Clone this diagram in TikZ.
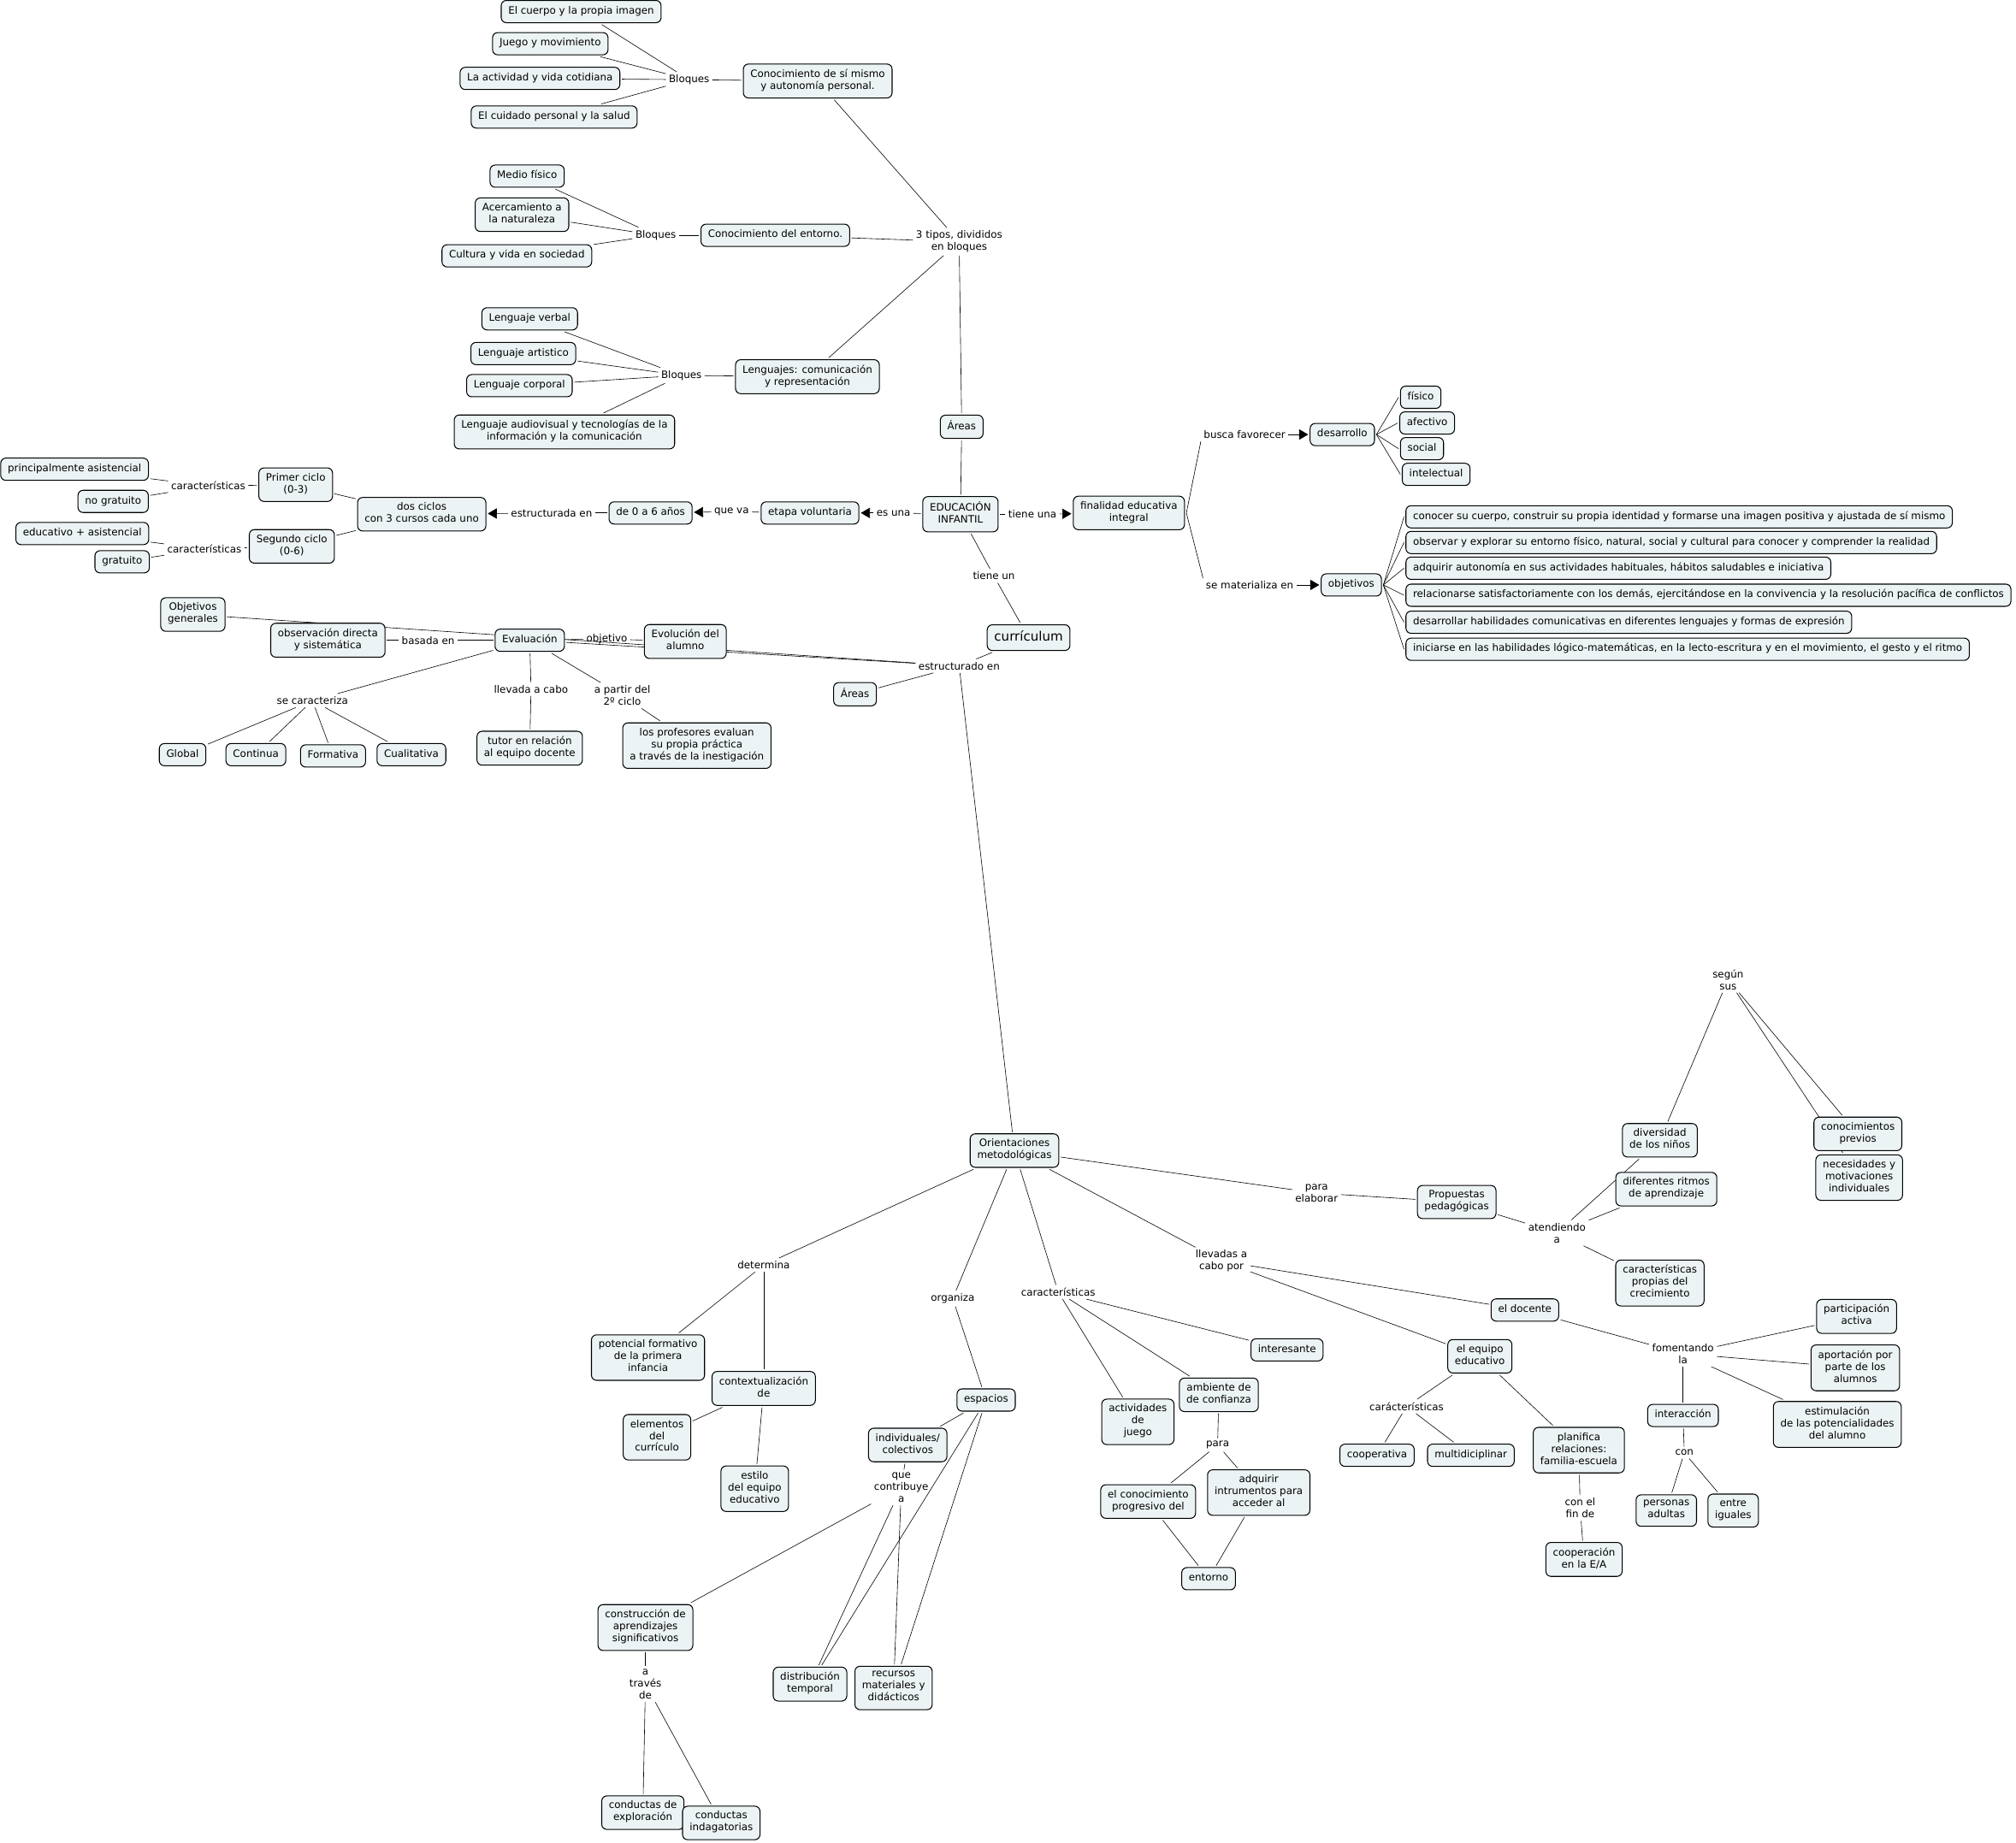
\documentclass[tikz,border=0pt]{standalone}
\usepackage{fontspec}
\setmainfont{DejaVu Sans}
\usetikzlibrary{arrows.meta,backgrounds}
\definecolor{fondocaja}{RGB}{236,243,245}

\tikzset{
    concepto/.style={draw, rounded corners=4pt, fill=fondocaja, line width=0.7pt, align=center,
        inner xsep=5.5pt, inner ysep=4pt, outer sep=1.5pt, font=\fontsize{7.9}{9.3}\selectfont,
        execute at begin node=\strut, execute at end node=\strut},
    enlace/.style={align=center, inner sep=2pt, font=\fontsize{7.9}{9.3}\selectfont},
    flecha/.style={-{Triangle[length=7pt,width=8pt]}}
}

\begin{document}
\begin{tikzpicture}[x=1pt, y=-1pt, line width=0.7pt]
    \useasboundingbox (0,0) rectangle (1568,1433);
    \path node[concepto] (cuerpo) at (452,9) {El cuerpo y la propia imagen}
        node[concepto] (juego) at (428,34) {Juego y movimiento}
        node[concepto] (actividad) at (420,61) {La actividad y vida cotidiana}
        node[concepto] (cuidado) at (431,91) {El cuidado personal y la salud}
        node[enlace] (bloquesA) at (536,62) {Bloques}
        node[concepto] (sismismo) at (636,63) {Conocimiento de sí mismo\\y autonomía personal.}
        node[enlace] (tipos) at (746,188) {3 tipos, divididos\\en bloques}
        node[concepto] (medio) at (410,137) {Medio físico}
        node[concepto] (acercamiento) at (406,167) {Acercamiento a\\la naturaleza}
        node[concepto] (cultura) at (402,199) {Cultura y vida en sociedad}
        node[enlace] (bloquesB) at (510,183) {Bloques}
        node[concepto] (entornoA) at (603,183) {Conocimiento del entorno.}
        node[concepto] (verbal) at (412,248) {Lenguaje verbal}
        node[concepto] (artistico) at (407,275) {Lenguaje artistico}
        node[concepto] (corporal) at (404,300) {Lenguaje corporal}
        node[concepto] (audiovisual) at (439,336) {Lenguaje audiovisual y tecnologías de la\\información y la comunicación}
        node[enlace] (bloquesC) at (530,292) {Bloques}
        node[concepto] (lenguajes) at (628,293) {Lenguajes: comunicación\\y representación}
        node[concepto] (areasA) at (748,332) {Áreas};
    \path node[concepto] (infantil) at (747,400) {EDUCACIÓN\\INFANTIL}
        node[enlace] (esuna) at (695,399) {es una}
        node[concepto] (etapa) at (630,399) {etapa voluntaria}
        node[enlace] (queva) at (569,398) {que va}
        node[concepto] (anios) at (506,399) {de 0 a 6 años}
        node[enlace] (estructurada) at (429,399) {estructurada en}
        node[concepto] (dosciclos) at (328,400) {dos ciclos\\con 3 cursos cada uno}
        node[concepto] (primer) at (230,377) {Primer ciclo\\(0-3)}
        node[concepto] (segundo) at (227,425) {Segundo ciclo\\(0-6)}
        node[enlace] (caracA) at (162,378) {características}
        node[enlace] (caracB) at (159,427) {características}
        node[concepto] (asistencial) at (58,365) {principalmente asistencial}
        node[concepto] (nogratuito) at (88,390) {no gratuito}
        node[concepto] (educasist) at (64,415) {educativo + asistencial}
        node[concepto] (gratuito) at (95,437) {gratuito}
        node[enlace] (tieneuna) at (803,400) {tiene una}
        node[concepto] (finalidad) at (878,399) {finalidad educativa\\integral}
        node[enlace] (buscafav) at (968,338) {busca favorecer}
        node[concepto] (desarrollo) at (1044,338) {desarrollo}
        node[concepto] (fisico) at (1105,309) {físico}
        node[concepto] (afectivo) at (1110,329) {afectivo}
        node[concepto] (social) at (1106,349) {social}
        node[concepto] (intelectual) at (1117,369) {intelectual}
        node[enlace] (materializa) at (972,455) {se materializa en}
        node[concepto] (objetivos) at (1051,455) {objetivos}
        node[concepto, anchor=west] (objA) at (1092,402) {conocer su cuerpo, construir su propia identidad y formarse una imagen positiva y ajustada de sí mismo}
        node[concepto, anchor=west] (objB) at (1092,422) {observar y explorar su entorno físico, natural, social y cultural para conocer y comprender la realidad}
        node[concepto, anchor=west] (objC) at (1092,442) {adquirir autonomía en sus actividades habituales, hábitos saludables e iniciativa}
        node[concepto, anchor=west] (objD) at (1092,463) {relacionarse satisfactoriamente con los demás, ejercitándose en la convivencia y la resolución pacífica de conflictos}
        node[concepto, anchor=west] (objE) at (1092,484) {desarrollar habilidades comunicativas en diferentes lenguajes y formas de expresión}
        node[concepto, anchor=west] (objF) at (1092,505) {iniciarse en las habilidades lógico-matemáticas, en la lecto-escritura y en el movimiento, el gesto y el ritmo};
    \path node[enlace] (tieneun) at (773,448) {tiene un}
        node[concepto, font=\fontsize{10}{12}\selectfont] (curriculum) at (800,496) {currículum}
        node[enlace] (estructurado) at (746,518) {estructurado en}
        node[concepto] (areasB) at (665,540) {Áreas}
        node[concepto] (objgenerales) at (150,478) {Objetivos\\generales}
        node[concepto] (evaluacion) at (412,498) {Evaluación}
        node[enlace] (objetivo) at (472,497) {objetivo}
        node[concepto] (evolucion) at (533,499) {Evolución del\\alumno}
        node[enlace] (basada) at (333,498) {basada en}
        node[concepto] (observacion) at (255,498) {observación directa\\y sistemática}
        node[enlace] (secaracteriza) at (243,545) {se caracteriza}
        node[concepto] (global) at (142,587) {Global}
        node[concepto] (continua) at (199,587) {Continua}
        node[concepto] (formativa) at (259,588) {Formativa}
        node[concepto] (cualitativa) at (320,587) {Cualitativa}
        node[enlace] (llevada) at (413,536) {llevada a cabo}
        node[concepto] (tutor) at (412,582) {tutor en relación\\al equipo docente}
        node[enlace] (apartir) at (484,541) {a partir del\\2º ciclo}
        node[concepto] (profesores) at (542,580) {los profesores evaluan\\su propia práctica\\a través de la inestigación};
    \path node[concepto] (orientaciones) at (789,895) {Orientaciones\\metodológicas}
        node[enlace] (paraelaborar) at (1024,928) {para\\elaborar}
        node[concepto] (propuestas) at (1133,935) {Propuestas\\pedagógicas}
        node[enlace] (atendiendo) at (1211,959) {atendiendo\\a}
        node[concepto] (diversidad) at (1291,887) {diversidad\\de los niños}
        node[concepto] (ritmos) at (1296,925) {diferentes ritmos\\de aprendizaje}
        node[concepto] (crecimiento) at (1291,998) {características\\propias del\\crecimiento}
        node[enlace] (segun) at (1344,762) {según\\sus}
        node[concepto] (previos) at (1445,882) {conocimientos\\previos}
        node[concepto] (necesidades) at (1446,916) {necesidades y\\motivaciones\\individuales}
        node[enlace] (llevadas) at (950,981) {llevadas a\\cabo por}
        node[concepto] (docente) at (1186,1019) {el docente}
        node[concepto] (equipo) at (1151,1055) {el equipo\\educativo}
        node[enlace] (caracC) at (1094,1094) {carácterísticas}
        node[concepto] (cooperativa) at (1071,1132) {cooperativa}
        node[concepto] (multidiciplinar) at (1144,1132) {multidiciplinar}
        node[concepto] (planifica) at (1228,1128) {planifica\\relaciones:\\familia-escuela}
        node[enlace] (confin) at (1229,1173) {con el\\fin de}
        node[concepto] (cooperacion) at (1232,1213) {cooperación\\en la E/A}
        node[enlace] (fomentando) at (1309,1053) {fomentando\\la}
        node[concepto] (participacion) at (1444,1024) {participación\\activa}
        node[concepto] (aportacion) at (1443,1064) {aportación por\\parte de los\\alumnos}
        node[concepto] (estimulacion) at (1429,1108) {estimulación\\de las potencialidades\\del alumno}
        node[concepto] (interaccion) at (1309,1101) {interacción}
        node[enlace] (con) at (1310,1130) {con}
        node[concepto] (personas) at (1296,1175) {personas\\adultas}
        node[concepto] (iguales) at (1348,1175) {entre\\iguales};
    \path node[enlace] (caracD) at (823,1005) {características}
        node[concepto] (interesante) at (1001,1050) {interesante}
        node[concepto] (ambiente) at (948,1085) {ambiente de\\de confianza}
        node[concepto] (juegoact) at (885,1106) {actividades\\de\\juego}
        node[enlace] (para) at (947,1124) {para}
        node[concepto] (progresivo) at (893,1168) {el conocimiento\\progresivo del}
        node[concepto] (adquirir) at (979,1161) {adquirir\\intrumentos para\\acceder al}
        node[concepto] (entornoB) at (940,1228) {entorno}
        node[enlace] (organiza) at (741,1010) {organiza}
        node[concepto] (espacios) at (767,1089) {espacios}
        node[concepto] (individuales) at (706,1124) {individuales/\\colectivos}
        node[enlace] (contribuye) at (701,1157) {que\\contribuye\\a}
        node[concepto] (construccion) at (502,1266) {construcción de\\aprendizajes\\significativos}
        node[enlace] (atraves) at (502,1310) {a\\través\\de}
        node[concepto] (exploracion) at (500,1410) {conductas de\\exploración}
        node[concepto] (indagatorias) at (561,1418) {conductas\\indagatorias}
        node[concepto] (distribucion) at (630,1310) {distribución\\temporal}
        node[concepto] (recursos) at (695,1313) {recursos\\materiales y\\didácticos}
        node[enlace] (determina) at (594,984) {determina}
        node[concepto] (potencial) at (504,1056) {potencial formativo\\de la primera\\infancia}
        node[concepto] (contextualizacion) at (594,1080) {contextualización\\de}
        node[concepto] (elementos) at (511,1118) {elementos\\del\\currículo}
        node[concepto] (estilo) at (587,1158) {estilo\\del equipo\\educativo};
    \begin{scope}[on background layer]
        \draw (cuerpo) -- (bloquesA);
        \draw (juego) -- (bloquesA);
        \draw (actividad) -- (bloquesA);
        \draw (cuidado) -- (bloquesA);
        \draw (bloquesA) -- (sismismo);
        \draw (medio) -- (bloquesB);
        \draw (acercamiento) -- (bloquesB);
        \draw (cultura) -- (bloquesB);
        \draw (bloquesB) -- (entornoA);
        \draw (verbal) -- (bloquesC);
        \draw (artistico) -- (bloquesC);
        \draw (corporal) -- (bloquesC);
        \draw (audiovisual) -- (bloquesC);
        \draw (bloquesC) -- (lenguajes);
        \draw (sismismo) -- (tipos);
        \draw (entornoA) -- (tipos);
        \draw (lenguajes) -- (tipos);
        \draw (tipos) -- (areasA);
        \draw (areasA) -- (infantil);
        \draw (infantil) -- (esuna);
        \draw[flecha] (esuna) -- (etapa);
        \draw (etapa) -- (queva);
        \draw[flecha] (queva) -- (anios);
        \draw (anios) -- (estructurada);
        \draw[flecha] (estructurada) -- (dosciclos);
        \draw (dosciclos) -- (primer);
        \draw (dosciclos) -- (segundo);
        \draw (primer) -- (caracA);
        \draw (caracA) -- (asistencial);
        \draw (caracA) -- (nogratuito);
        \draw (segundo) -- (caracB);
        \draw (caracB) -- (educasist);
        \draw (caracB) -- (gratuito);
        \draw (infantil) -- (tieneuna);
        \draw[flecha] (tieneuna) -- (finalidad);
        \draw (finalidad.east) -- (buscafav.south west);
        \draw[flecha] (buscafav) -- (desarrollo);
        \draw (desarrollo.east) -- (fisico.west);
        \draw (desarrollo.east) -- (afectivo.west);
        \draw (desarrollo.east) -- (social.west);
        \draw (desarrollo.east) -- (intelectual.west);
        \draw (finalidad.east) -- (materializa.north west);
        \draw[flecha] (materializa) -- (objetivos);
        \draw (objetivos.east) -- (objA.west);
        \draw (objetivos.east) -- (objB.west);
        \draw (objetivos.east) -- (objC.west);
        \draw (objetivos.east) -- (objD.west);
        \draw (objetivos.east) -- (objE.west);
        \draw (objetivos.east) -- (objF.west);
        \draw (infantil) -- (tieneun);
        \draw (tieneun) -- (curriculum);
        \draw (curriculum) -- (estructurado);
        \draw (estructurado) -- (areasB);
        \draw (estructurado) -- (objgenerales);
        \draw (estructurado) -- (evaluacion);
        \draw (estructurado) -- (orientaciones);
        \draw (evaluacion) -- (basada);
        \draw (basada) -- (observacion);
        \draw (evaluacion) -- (objetivo);
        \draw (objetivo) -- (evolucion);
        \draw (evaluacion) -- (secaracteriza);
        \draw (secaracteriza) -- (global);
        \draw (secaracteriza) -- (continua);
        \draw (secaracteriza) -- (formativa);
        \draw (secaracteriza) -- (cualitativa);
        \draw (evaluacion) -- (llevada);
        \draw (llevada) -- (tutor);
        \draw (evaluacion) -- (apartir);
        \draw (apartir) -- (profesores);
        \draw (orientaciones) -- (paraelaborar);
        \draw (paraelaborar) -- (propuestas);
        \draw (propuestas) -- (atendiendo);
        \draw (atendiendo) -- (diversidad);
        \draw (atendiendo) -- (ritmos);
        \draw (atendiendo) -- (crecimiento);
        \draw (diversidad) -- (segun);
        \draw (segun) -- (previos);
        \draw (segun) -- (necesidades);
        \draw (orientaciones) -- (llevadas);
        \draw (llevadas) -- (docente);
        \draw (llevadas) -- (equipo);
        \draw (equipo) -- (caracC);
        \draw (caracC) -- (cooperativa);
        \draw (caracC) -- (multidiciplinar);
        \draw (equipo) -- (planifica);
        \draw (planifica) -- (confin);
        \draw (confin) -- (cooperacion);
        \draw (docente) -- (fomentando);
        \draw (fomentando) -- (participacion);
        \draw (fomentando) -- (aportacion);
        \draw (fomentando) -- (estimulacion);
        \draw (fomentando) -- (interaccion);
        \draw (interaccion) -- (con);
        \draw (con) -- (personas);
        \draw (con) -- (iguales);
        \draw (orientaciones) -- (caracD);
        \draw (caracD) -- (juegoact);
        \draw (caracD) -- (ambiente);
        \draw (caracD) -- (interesante);
        \draw (ambiente) -- (para);
        \draw (para) -- (progresivo);
        \draw (para) -- (adquirir);
        \draw (progresivo) -- (entornoB);
        \draw (adquirir) -- (entornoB);
        \draw (orientaciones) -- (organiza);
        \draw (organiza) -- (espacios);
        \draw (espacios) -- (individuales);
        \draw (espacios) -- (distribucion);
        \draw (espacios) -- (recursos);
        \draw (individuales) -- (contribuye);
        \draw (contribuye) -- (construccion);
        \draw (contribuye) -- (distribucion);
        \draw (contribuye) -- (recursos);
        \draw (construccion) -- (atraves);
        \draw (atraves) -- (exploracion);
        \draw (atraves) -- (indagatorias);
        \draw (orientaciones) -- (determina);
        \draw (determina) -- (potencial);
        \draw (determina) -- (contextualizacion);
        \draw (contextualizacion) -- (elementos);
        \draw (contextualizacion) -- (estilo);
    \end{scope}
\end{tikzpicture}
\end{document}
